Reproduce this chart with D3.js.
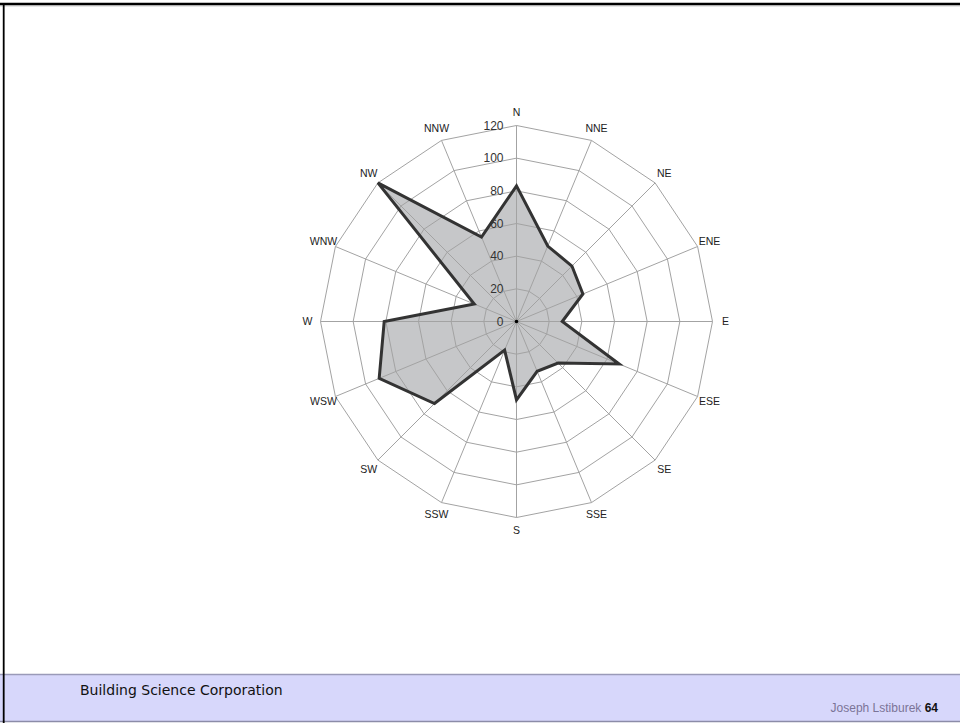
<!DOCTYPE html>
<html><head><meta charset="utf-8">
<script src="https://cdn.jsdelivr.net/npm/d3@7"></script>
<style>
html,body{margin:0;padding:0;background:#fff;}
svg{display:block;}
</style></head>
<body>
<script>
const directions = ["N","NNE","NE","ENE","E","ESE","SE","SSE","S","SSW","SW","WSW","W","WNW","NW","NNW"];
const values = [83, 50, 48, 44, 28, 68, 36, 33, 48, 19, 71, 91, 81, 28, 120, 56];
const ticks = [0, 20, 40, 60, 80, 100, 120];
const footerLeft = "Building Science Corporation";
const footerAuthor = "Joseph Lstiburek";
const pageNumber = "64";

const W = 960, H = 723;
const cx = 516.5, cy = 321.5, R = 196;
const svg = d3.select("body").append("svg").attr("width", W).attr("height", H);

// slide frame
svg.append("rect").attr("x",0).attr("y",0).attr("width",W).attr("height",H).attr("fill","#fff");
svg.append("rect").attr("x",0).attr("y",674).attr("width",W).attr("height",48).attr("fill","#d7d7fb");
svg.append("line").attr("x1",0).attr("x2",W).attr("y1",674.5).attr("y2",674.5).attr("stroke","#9a9ab8").attr("stroke-width",1.5);
svg.append("line").attr("x1",0).attr("x2",W).attr("y1",721.5).attr("y2",721.5).attr("stroke","#8c8ca8").attr("stroke-width",1.5);
svg.append("line").attr("x1",0).attr("x2",W).attr("y1",4).attr("y2",4).attr("stroke","#000").attr("stroke-width",2.5);
svg.append("line").attr("x1",0).attr("x2",W).attr("y1",5.8).attr("y2",5.8).attr("stroke","#aaa").attr("stroke-width",1);
svg.append("line").attr("x1",3.7).attr("x2",3.7).attr("y1",3).attr("y2",H).attr("stroke","#000").attr("stroke-width",1.8);

svg.append("text").attr("x",80).attr("y",695).attr("font-family","DejaVu Sans, Verdana, sans-serif")
  .attr("font-size",14).attr("fill","#111").text(footerLeft);
const ft = svg.append("text").attr("x",938).attr("y",712).attr("text-anchor","end")
  .attr("font-family","Liberation Sans, Arial, sans-serif").attr("font-size",12);
ft.append("tspan").attr("fill","#7b7497").text(footerAuthor + "  ");
ft.append("tspan").attr("fill","#111").attr("font-weight","bold").text(pageNumber);

// radar
const g = svg.append("g").attr("transform", `translate(${cx},${cy})`);
const r = d3.scaleLinear().domain([0,120]).range([0,R]);
const ang = d3.scaleLinear().domain([0, directions.length]).range([0, 2*Math.PI]);
const pt = (a, rad) => [rad*Math.sin(a), -rad*Math.cos(a)];

const radial = d3.lineRadial().angle((d,i)=>ang(i)).radius(d=>r(d)).curve(d3.curveLinearClosed);

// fill
g.append("path").datum(values).attr("d", radial).attr("fill","#c6c7c9").attr("stroke","none");

// rings
ticks.filter(t=>t>0).forEach(t=>{
  g.append("path").datum(directions.map(()=>t)).attr("d", radial)
    .attr("fill","none").attr("stroke","#a3a3a3").attr("stroke-width",1);
});
// spokes
directions.forEach((d,i)=>{
  const p = pt(ang(i), r(120));
  g.append("line").attr("x1",0).attr("y1",0).attr("x2",p[0]).attr("y2",p[1])
    .attr("stroke","#a3a3a3").attr("stroke-width",1);
});

// data outline
g.append("path").datum(values).attr("d", radial).attr("fill","none")
  .attr("stroke","#333").attr("stroke-width",3).attr("stroke-linejoin","miter");

g.append("circle").attr("r",1.8).attr("fill","#000");

// tick labels
ticks.forEach(t=>{
  g.append("text").attr("x",-13).attr("y",-r(t)).attr("dy","0.35em").attr("text-anchor","end")
    .attr("font-family","Liberation Sans, Arial, sans-serif").attr("font-size",12).attr("fill","#333").text(t);
});

// direction labels
directions.forEach((d,i)=>{
  const p = pt(ang(i), r(120)+13);
  g.append("text").attr("x",p[0]).attr("y",p[1]).attr("dy","0.35em").attr("text-anchor","middle")
    .attr("font-family","Liberation Sans, Arial, sans-serif").attr("font-size",10.5).attr("fill","#222").text(d);
});
</script>
</body></html>
